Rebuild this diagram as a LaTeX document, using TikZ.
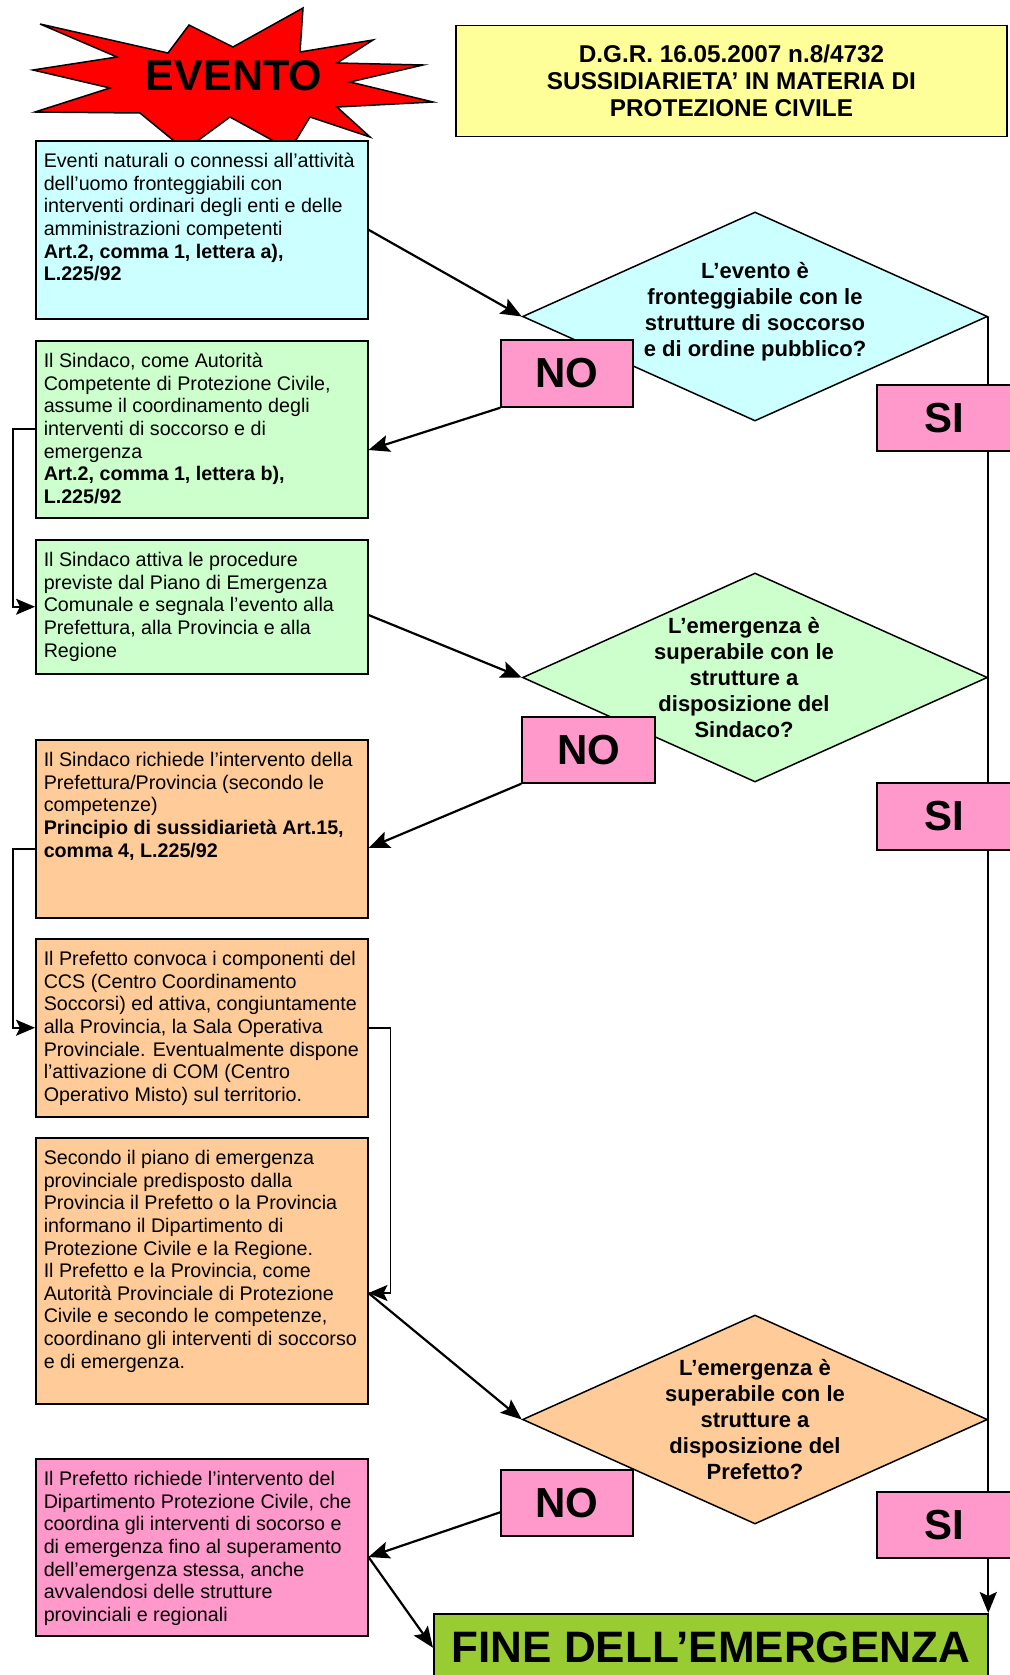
\documentclass[tikz,border=0pt]{standalone}
\usepackage{fontspec}
\setmainfont{Liberation Sans}
\usetikzlibrary{shapes.geometric,arrows.meta,calc}
\definecolor{cyanbox}{HTML}{CCFFFF}
\definecolor{greenbox}{HTML}{CCFFCC}
\definecolor{orangebox}{HTML}{FFCC99}
\definecolor{pinkbox}{HTML}{FF99CC}
\definecolor{yellowbox}{HTML}{FFFF99}
\definecolor{finegreen}{HTML}{99CC33}
\newcommand{\tbox}[2]{\parbox[c][#1][t]{324pt}{\fontsize{19.7pt}{22.6pt}\selectfont\raggedright\leftskip=4pt\rule{0pt}{27pt}#2\par}}
\tikzset{
  tb/.style={draw, line width=1.5pt, inner xsep=4pt, inner ysep=0pt, anchor=north west},
  dia/.style={diamond, draw, line width=1.5pt, minimum width=465pt, minimum height=209pt, inner sep=0pt},
  dtext/.style={align=center, inner sep=0pt, font=\fontsize{22pt}{26pt}\selectfont\bfseries},
  lab/.style={draw, fill=pinkbox, line width=1.5pt, inner sep=0pt, font=\fontsize{42pt}{42pt}\selectfont\bfseries},
  conn/.style={line width=2.2pt, -{Stealth[length=21pt,width=17pt,inset=4pt]}},
  elbow/.style={line width=1.6pt, -{Stealth[length=19pt,width=16pt,inset=4pt]}}
}
\begin{document}
\begin{tikzpicture}[x=1pt,y=-1pt]
\useasboundingbox (0,0) rectangle (1009,1675);
\fill[white] (0,0) rectangle (1009,1675);

% star
\draw[fill=red, line width=1.5pt] (40,24) -- (168,53) -- (189,25) -- (233,47) -- (303,8) -- (300,52) -- (373,40) -- (337,63) -- (423,65) -- (350,82) -- (433,102) -- (337,107) -- (370,137) -- (310,117) -- (290,150) -- (230,117) -- (185,150) -- (140,113) -- (35,112) -- (110,88) -- (33,70) -- (117,57) -- cycle;
\node[font=\fontsize{43pt}{43pt}\selectfont\bfseries, inner sep=0pt] (ev) at (234,76) {EVENTO};

% title
\node[draw, fill=yellowbox, line width=1.5pt, minimum width=551pt, minimum height=111pt, align=center, font=\fontsize{24.3pt}{27.3pt}\selectfont\bfseries] (title) at (731.5,81) {D.G.R. 16.05.2007 n.8/4732\\SUSSIDIARIETA’ IN MATERIA DI\\PROTEZIONE CIVILE};

% boxes
\node[tb, fill=cyanbox] (cy) at (35,140) {\tbox{178pt}{Eventi naturali o connessi all’attività\\dell’uomo fronteggiabili con\\interventi ordinari degli enti e delle\\amministrazioni competenti\\\textbf{Art.2, comma 1, lettera a),}\\\textbf{L.225/92}}};
\node[tb, fill=greenbox] (g1) at (35,340) {\tbox{177pt}{Il Sindaco, come Autorità\\Competente di Protezione Civile,\\assume il coordinamento degli\\interventi di soccorso e di\\emergenza\\\textbf{Art.2, comma 1, lettera b),}\\\textbf{L.225/92}}};
\node[tb, fill=greenbox] (g2) at (35,539) {\tbox{134pt}{Il Sindaco attiva le procedure\\previste dal Piano di Emergenza\\Comunale e segnala l’evento alla\\Prefettura, alla Provincia e alla\\Regione}};
\node[tb, fill=orangebox] (o1) at (35,739) {\tbox{178pt}{Il Sindaco richiede l’intervento della\\Prefettura/Provincia (secondo le\\competenze)\\\textbf{Principio di sussidiarietà Art.15,}\\\textbf{comma 4, L.225/92}}};
\node[tb, fill=orangebox] (o2) at (35,938) {\tbox{178pt}{Il Prefetto convoca i componenti del\\CCS (Centro Coordinamento\\Soccorsi) ed attiva, congiuntamente\\alla Provincia, la Sala Operativa\\Provinciale. Eventualmente dispone\\l’attivazione di COM (Centro\\Operativo Misto) sul territorio.}};
\node[tb, fill=orangebox] (o3) at (35,1137) {\tbox{266pt}{Secondo il piano di emergenza\\provinciale predisposto dalla\\Provincia il Prefetto o la Provincia\\informano il Dipartimento di\\Protezione Civile e la Regione.\\Il Prefetto e la Provincia, come\\Autorità Provinciale di Protezione\\Civile e secondo le competenze,\\coordinano gli interventi di soccorso\\e di emergenza.}};
\node[tb, fill=pinkbox] (pk) at (35,1458) {\tbox{177pt}{Il Prefetto richiede l’intervento del\\Dipartimento Protezione Civile, che\\coordina gli interventi di socorso e\\di emergenza fino al superamento\\dell’emergenza stessa, anche\\avvalendosi delle strutture\\provinciali e regionali}};

% diamonds
\node[dia, fill=cyanbox] (d1) at (755,316.5) {};
\node[dia, fill=greenbox] (d2) at (755,677.5) {};
\node[dia, fill=orangebox] (d3) at (755,1419.5) {};
\node[dtext] (d1t) at (755,311.5) {L’evento è\\fronteggiabile con le\\strutture di soccorso\\e di ordine pubblico?};
\node[dtext] (d2t) at (744,677.5) {L’emergenza è\\superabile con le\\strutture a\\disposizione del\\Sindaco?};
\node[dtext] (d3t) at (755,1420) {L’emergenza è\\superabile con le\\strutture a\\disposizione del\\Prefetto?};

% end box
\node[draw, fill=finegreen, line width=1.5pt, anchor=north west, minimum width=554pt, minimum height=68pt, inner sep=0pt, font=\fontsize{44pt}{44pt}\selectfont\bfseries] (fine) at (433,1613) {FINE DELL’EMERGENZA};

% NO labels
\node[lab, minimum width=132pt, minimum height=67pt] (no1) at (567,373.5) {NO};
\node[lab, minimum width=133pt, minimum height=66pt] (no2) at (588.5,750) {NO};
\node[lab, minimum width=132pt, minimum height=66pt] (no3) at (567,1503) {NO};

% connectors
\draw[conn] (cy.east) -- (d1.west);
\draw[conn] (no1.south west) -- ($(g1.north east)+(0,110)$);
\draw[elbow] (g1.west) -- ++(-22,0) |- (g2.west);
\draw[conn] ($(g2.north east)+(0,76)$) -- (d2.west);
\draw[conn] (no2.south west) -- ($(o1.north east)+(0,109)$);
\draw[elbow] ($(o1.north west)+(0,110)$) -- ++(-22,0) |- (o2.west);
\draw[elbow] (o2.east) -- ++(22,0) |- ($(o3.north east)+(0,156)$);
\draw[conn] ($(o3.north east)+(0,156)$) -- (d3.west);
\draw[conn] ($(no3.north west)+(0,43)$) -- ($(pk.north east)+(0,99)$);
\draw[conn] ($(pk.north east)+(0,99)$) -- (fine.west);
\draw[conn] (d1.east) -- (d1.east |- fine.north);

% SI labels
\node[lab, minimum width=135pt, minimum height=66pt] (si1) at (944.5,418) {SI};
\node[lab, minimum width=135pt, minimum height=67pt] (si2) at (944.5,816.5) {SI};
\node[lab, minimum width=135pt, minimum height=66pt] (si3) at (944.5,1525) {SI};
\end{tikzpicture}
\end{document}
